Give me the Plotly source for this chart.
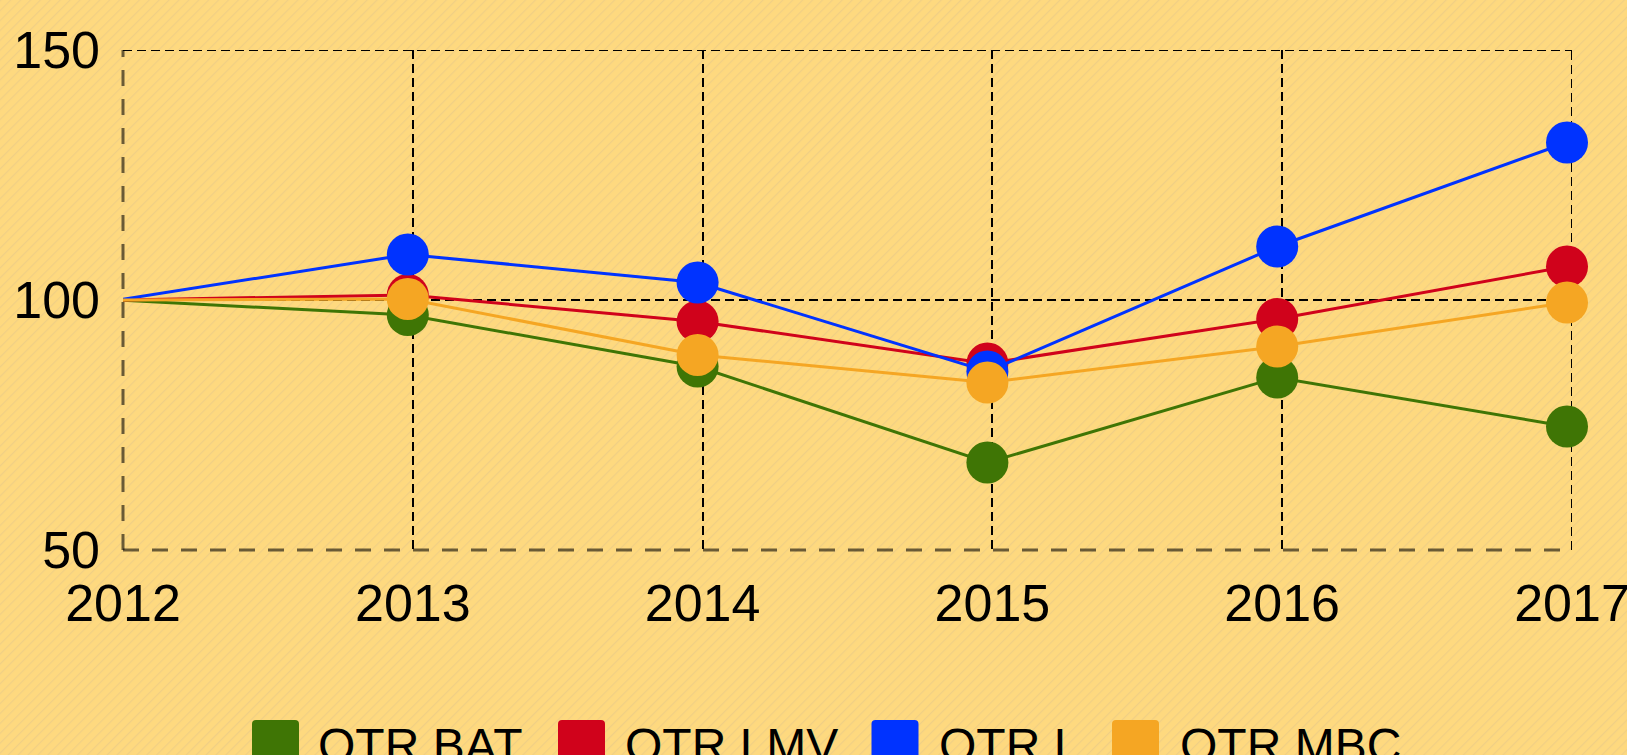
import base64
import plotly.graph_objects as go

# ---- data ----
years = [2012, 2013, 2014, 2015, 2016, 2017]
otr_bat = [100, 97.0, 86.7, 67.5, 84.5, 74.7]
otr_lmv = [100, 101.0, 95.7, 87.3, 96.2, 106.7]
otr_l = [100, 109.1, 103.5, 85.7, 110.7, 131.5]
otr_mbc = [100, 100.2, 89.0, 83.5, 90.7, 99.5]
series_names = ["OTR BAT", "OTR LMV", "OTR L", "OTR MBC"]
series_values = [otr_bat, otr_lmv, otr_l, otr_mbc]
series_colors = ["#3F7505", "#D0021B", "#0033FF", "#F5A623"]
y_ticks = [50, 100, 150]
y_range = [50, 150]

# ---- geometry ----
W, H = 1627, 755
L, R, T, B = 123, 55, 50, 205
PW, PH = W - L - R, H - T - B
FONT = "Liberation Sans, Arial, sans-serif"


def px2x(px):
    return (px - L) / PW


def py2y(py):
    return (T + PH - py) / PH


# markers sit a few pixels left of the grid lines in the original
shift = 5 * (years[-1] - years[0]) / PW
x_range = [years[0] + shift, years[-1] + shift]

fig = go.Figure()
for name, vals, col in zip(series_names, series_values, series_colors):
    fig.add_trace(go.Scatter(
        x=years, y=vals, name=name, mode="lines+markers",
        line=dict(color=col, width=3),
        marker=dict(color=col, size=42),
        cliponaxis=False, showlegend=False,
    ))

# helper (empty) traces to activate overlay axes
fig.add_trace(go.Scatter(x=[], y=[], xaxis="x2", yaxis="y", showlegend=False, hoverinfo="skip"))
fig.add_trace(go.Scatter(x=[], y=[], xaxis="x3", yaxis="y", showlegend=False, hoverinfo="skip"))
fig.add_trace(go.Scatter(x=[], y=[], xaxis="x", yaxis="y2", showlegend=False, hoverinfo="skip"))

# background pattern
svg = f'''<svg xmlns="http://www.w3.org/2000/svg" width="{W}" height="{H}">
<defs><pattern id="p" width="7" height="7" patternUnits="userSpaceOnUse" patternTransform="rotate(45)">
<rect x="0" y="0" width="7" height="7" fill="#FED97F"/>
<rect x="0" y="0" width="1.2" height="7" fill="#F0CF85"/>
</pattern></defs>
<rect width="{W}" height="{H}" fill="url(#p)"/></svg>'''
src = "data:image/svg+xml;base64," + base64.b64encode(svg.encode()).decode()

grid_line = dict(color="#000", width=2, dash="9px,5px")
shapes = [
    # edge grid lines (Plotly drops grid lines lying on the plot edges)
    dict(type="line", xref="x3", yref="paper", x0=years[-1], x1=years[-1], y0=0, y1=1,
         line=grid_line, layer="below"),
    dict(type="line", xref="paper", yref="y2", x0=0, x1=1, y0=y_ticks[-1], y1=y_ticks[-1],
         line=grid_line, layer="below"),
    # dashed axis lines
    dict(type="line", xref="paper", yref="paper", x0=0, x1=0, y0=0, y1=1,
         line=dict(color="rgba(0,0,0,0.58)", width=3, dash="16px,13px"), layer="above"),
    dict(type="line", xref="paper", yref="paper", x0=0, x1=1, y0=0, y1=0,
         line=dict(color="rgba(0,0,0,0.58)", width=3, dash="16px,13px"), layer="above"),
]
annotations = []

# manual legend
leg_sq_x = [252, 558, 871.5, 1112]
leg_txt_x = [316, 622.5, 937, 1178]
sq_top, sq = 720, 47
rr = 4
for name, col, sx, tx in zip(series_names, series_colors, leg_sq_x, leg_txt_x):
    x0, x1 = px2x(sx), px2x(sx + sq)
    rx, ry = rr / PW, rr / PH
    y0, y1 = py2y(sq_top), py2y(sq_top + sq)
    path = (f"M {x0+rx},{y0} L {x1-rx},{y0} Q {x1},{y0} {x1},{y0-ry} "
            f"L {x1},{y1+ry} Q {x1},{y1} {x1-rx},{y1} L {x0+rx},{y1} "
            f"Q {x0},{y1} {x0},{y1+ry} L {x0},{y0-ry} Q {x0},{y0} {x0+rx},{y0} Z")
    shapes.append(dict(type="path", xref="paper", yref="paper", path=path,
                       fillcolor=col, line=dict(width=0), layer="above"))
    annotations.append(dict(xref="paper", yref="paper", x=px2x(tx), y=py2y(717),
                            xanchor="left", yanchor="top", text=name, showarrow=False,
                            font=dict(family=FONT, size=48, color="#000")))

tickfont = dict(family=FONT, size=52, color="#000")
fig.update_layout(
    width=W, height=H,
    margin=dict(l=L, r=R, t=T, b=B, autoexpand=False),
    paper_bgcolor="#FED97F", plot_bgcolor="rgba(0,0,0,0)",
    showlegend=False,
    images=[dict(source=src, xref="paper", yref="paper", x=px2x(0), y=py2y(0),
                 sizex=W / PW, sizey=H / PH, xanchor="left", yanchor="top",
                 sizing="stretch", layer="below")],
    xaxis=dict(range=x_range, visible=False, showgrid=False, zeroline=False),
    xaxis2=dict(overlaying="x", anchor="y", range=[years[0], years[-1]], tickvals=years,
                showgrid=False, zeroline=False, showline=False, ticks="",
                tickfont=tickfont, ticklabelstandoff=18, ticklabeloverflow="allow"),
    xaxis3=dict(overlaying="x", anchor="y", range=[years[0], years[-1]], tickvals=years[1:],
                showgrid=True, gridcolor="#000", gridwidth=2, griddash="9px,5px",
                showticklabels=False, zeroline=False, showline=False, ticks=""),
    yaxis=dict(range=y_range, tickvals=y_ticks, showgrid=False, zeroline=False,
               showline=False, ticks="", tickfont=tickfont, ticklabelstandoff=22,
               ticklabeloverflow="allow"),
    yaxis2=dict(overlaying="y", anchor="x", range=y_range, tickvals=y_ticks[1:],
                showgrid=True, gridcolor="#000", gridwidth=2, griddash="9px,5px",
                showticklabels=False, zeroline=False, showline=False, ticks=""),
    shapes=shapes, annotations=annotations,
)

fig.write_html("out.html", config={"displayModeBar": False},
               post_script="document.body.style.margin='0';document.body.style.overflow='hidden';")
